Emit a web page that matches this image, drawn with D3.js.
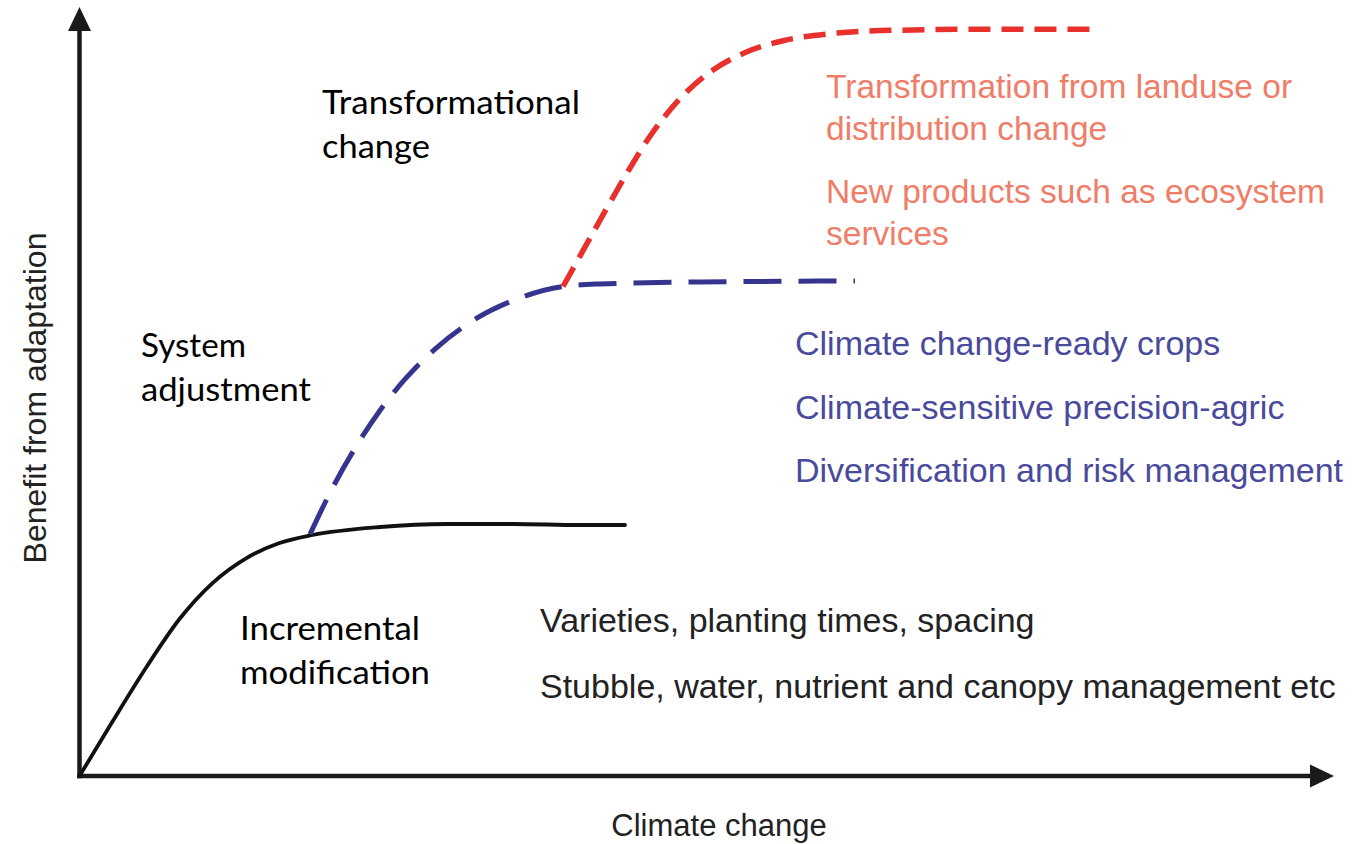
<!DOCTYPE html>
<html>
<head>
<meta charset="utf-8">
<script src="https://cdn.jsdelivr.net/npm/d3@7"></script>
<style>
  html, body { margin: 0; padding: 0; background: #ffffff; }
  svg { display: block; }
</style>
</head>
<body>
<svg id="chart" width="1354" height="844"></svg>
<script>
// ---- Data (x: climate change, y: benefit from adaptation; arbitrary 0-100 units) ----
const incrementalX = [0, 2.64, 5.36, 8.0, 10.64, 13.36, 16.0, 18.64, 24.04, 29.4, 34.68, 40.04, 43.64];
const incrementalY = [0, 7.08, 14.16, 20.39, 25.06, 28.31, 30.26, 31.3, 32.34, 32.73, 32.73, 32.6, 32.6];

const systemX = [18.44, 20.28, 22.2, 24.04, 26.04, 28.44, 31.48, 34.68, 38.68, 41.64, 49.64, 62.04];
const systemY = [31.4, 37.53, 42.99, 47.47, 51.53, 55.45, 59.16, 61.75, 63.57, 63.9, 64.16, 64.29];

const transformX = [38.68, 40.28, 42.2, 43.8, 45.64, 48.04, 50.68, 53.4, 56.28, 60.28, 65.64, 73.64, 81.64];
const transformY = [63.57, 68.22, 73.79, 78.31, 83.08, 87.97, 91.68, 94.05, 95.49, 96.44, 96.86, 96.99, 96.99];

const levelLabels = [
  ["Transformational", "change"],
  ["System", "adjustment"],
  ["Incremental", "modification"]
];
const transformExamples = [
  ["Transformation from landuse or", "distribution change"],
  ["New products such as ecosystem", "services"]
];
const systemExamples = [
  "Climate change-ready crops",
  "Climate-sensitive precision-agric",
  "Diversification and risk management"
];
const incrementalExamples = [
  "Varieties, planting times, spacing",
  "Stubble, water, nutrient and canopy management etc"
];
const xAxisTitle = "Climate change";
const yAxisTitle = "Benefit from adaptation";

// ---- Layout ----
const svg = d3.select("#chart");
const x = d3.scaleLinear().domain([0, 100]).range([79.5, 1329.5]);
const y = d3.scaleLinear().domain([0, 100]).range([776, 6]);

const zip = (xs, ys) => xs.map((v, i) => [v, ys[i]]);
const line = d3.line().x(d => x(d[0])).y(d => y(d[1])).curve(d3.curveMonotoneX);

// ---- Axes (plain arrows) ----
const axisW = 4.5;
const x0 = x(0), y0 = y(0);
const yTop = 7, xRight = 1334;
svg.append("line")
  .attr("x1", x0).attr("y1", y0 + axisW / 2).attr("x2", x0).attr("y2", yTop + 18)
  .attr("stroke", "#1a1a1a").attr("stroke-width", axisW);
svg.append("path")
  .attr("d", `M${x0},${yTop} L${x0 - 11.5},${yTop + 24} L${x0 + 11.5},${yTop + 24} Z`)
  .attr("fill", "#1a1a1a");
svg.append("line")
  .attr("x1", x0 - axisW / 2).attr("y1", y0).attr("x2", xRight - 18).attr("y2", y0)
  .attr("stroke", "#1a1a1a").attr("stroke-width", axisW);
svg.append("path")
  .attr("d", `M${xRight},${y0} L${xRight - 24},${y0 - 11.5} L${xRight - 24},${y0 + 11.5} Z`)
  .attr("fill", "#1a1a1a");

// ---- Curves ----
svg.append("path")
  .datum(zip(incrementalX, incrementalY))
  .attr("d", line)
  .attr("fill", "none")
  .attr("stroke", "#111111")
  .attr("stroke-width", 3.8)
  .attr("stroke-linecap", "round");

svg.append("path")
  .datum(zip(systemX, systemY))
  .attr("d", line)
  .attr("fill", "none")
  .attr("stroke", "#35358f")
  .attr("stroke-width", 5)
  .attr("stroke-dasharray", "38,17");

svg.append("path")
  .datum(zip(transformX, transformY))
  .attr("d", line)
  .attr("fill", "none")
  .attr("stroke", "#e8302c")
  .attr("stroke-width", 5.5)
  .attr("stroke-dasharray", "22,11");

// ---- Text ----
function addText(str, tx, ty, opts) {
  const t = svg.append("text")
    .attr("x", tx).attr("y", ty)
    .attr("font-family", opts.family)
    .attr("font-size", opts.size)
    .attr("fill", opts.color)
    .text(str);
  if (opts.anchor) t.attr("text-anchor", opts.anchor);
  if (opts.width) t.attr("textLength", opts.width).attr("lengthAdjust", "spacingAndGlyphs");
  return t;
}

const calibri = { family: "Lato, 'Open Sans', sans-serif", size: 33, color: "#000000" };
// level labels: [x, baseline1, baseline2, width1, width2]
const levelPos = [
  [322, 114, 158, 258, 108],
  [141, 357, 401, 105, 170],
  [240, 640, 684, 180, 190]
];
levelLabels.forEach((lines, i) => {
  const p = levelPos[i];
  addText(lines[0], p[0], p[1], Object.assign({}, calibri, { width: p[3] }));
  addText(lines[1], p[0], p[2], Object.assign({}, calibri, { width: p[4] }));
});

const helv = { family: "'Liberation Sans', Arial, Helvetica, sans-serif", size: 34 };
const redText = "#ef7d68", blueText = "#4a4a9c", darkText = "#222222";

const redBase = [[98, 140], [203, 245]];
transformExamples.forEach((lines, i) => {
  addText(lines[0], 826, redBase[i][0], Object.assign({}, helv, { color: redText, size: 33.5 }));
  addText(lines[1], 826, redBase[i][1], Object.assign({}, helv, { color: redText, size: 33.5 }));
});

const blueBase = [355, 419, 482];
systemExamples.forEach((s, i) => {
  addText(s, 795, blueBase[i], Object.assign({}, helv, { color: blueText, size: 34 }));
});

const blackBase = [632, 698];
incrementalExamples.forEach((s, i) => {
  addText(s, 540, blackBase[i], Object.assign({}, helv, { color: darkText, size: 34 }));
});

addText(xAxisTitle, 719, 836, Object.assign({}, helv, { color: darkText, size: 31, anchor: "middle" }));
svg.append("text")
  .attr("transform", "translate(46,398) rotate(-90)")
  .attr("text-anchor", "middle")
  .attr("font-family", helv.family)
  .attr("font-size", 32)
  .attr("fill", darkText)
  .text(yAxisTitle);
</script>
</body>
</html>
